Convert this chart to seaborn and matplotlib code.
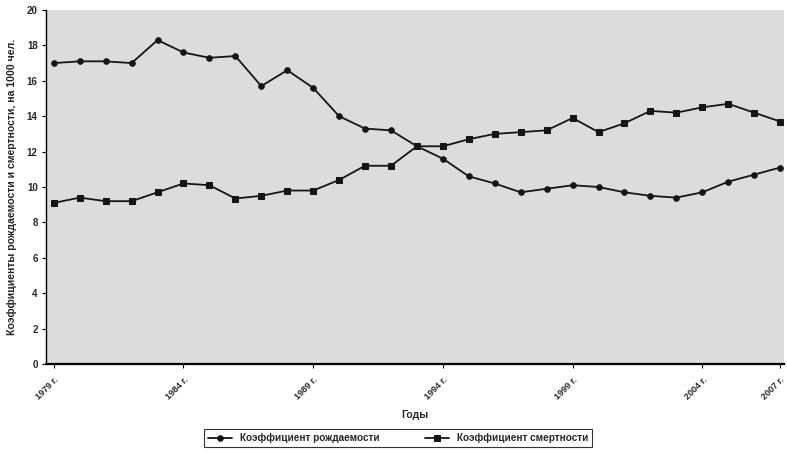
import numpy as np
import pandas as pd
import matplotlib
matplotlib.use("Agg")
import matplotlib.pyplot as plt
import seaborn as sns

years = list(range(1979, 2008))
birth_rate = [17.0, 17.1, 17.1, 17.0, 18.3, 17.6, 17.3, 17.4, 15.7, 16.6,
              15.6, 14.0, 13.3, 13.2, 12.3, 11.6, 10.6, 10.2, 9.7, 9.9,
              10.1, 10.0, 9.7, 9.5, 9.4, 9.7, 10.3, 10.7, 11.1]
death_rate = [9.1, 9.4, 9.2, 9.2, 9.7, 10.2, 10.1, 9.35, 9.5, 9.8,
              9.8, 10.4, 11.2, 11.2, 12.3, 12.3, 12.7, 13.0, 13.1, 13.2,
              13.9, 13.1, 13.6, 14.3, 14.2, 14.5, 14.7, 14.2, 13.7]
tick_years = [1979, 1984, 1989, 1994, 1999, 2004, 2007]
tick_labels = ["1979 г.", "1984 г.", "1989 г.", "1994 г.", "1999 г.", "2004 г.", "2007 г."]
series_names = ["Коэффициент рождаемости", "Коэффициент смертности"]
x_label = "Годы"
y_label = "Коэффициенты рождаемости и смертности, на 1000 чел."

sns.set_style("white")
plt.rcParams['font.family'] = ['Liberation Sans', 'DejaVu Sans']

fig = plt.figure(figsize=(7.87, 4.54), dpi=100)
ax = fig.add_axes([46/787, 1 - 364/454, (784-46)/787, (364-10)/454])
ax.set_facecolor("#dcdcdc")

df = pd.DataFrame({"year": years, "birth": birth_rate, "death": death_rate})
sns.lineplot(data=df, x="year", y="birth", ax=ax, color="#151515", linewidth=1.3,
             marker="o", markersize=4.0, markeredgecolor="#151515", label=series_names[0])
sns.lineplot(data=df, x="year", y="death", ax=ax, color="#151515", linewidth=1.3,
             marker="s", markersize=4.3, markeredgecolor="#151515", label=series_names[1])

ax.set_xlim(1978.7, 2007.15)
ax.set_ylim(0, 20)
ax.set_yticks(range(0, 21, 2))
ax.set_xticks(tick_years)
ax.set_xticklabels(tick_labels, rotation=45, ha="right", rotation_mode="anchor",
                   fontsize=6.5, fontweight="bold")
for lbl in ax.get_yticklabels():
    lbl.set_fontsize(7)
    lbl.set_fontweight("bold")
ax.tick_params(axis="both", which="both", length=3, width=0.8, color="black",
               direction="out", pad=3, left=True, bottom=True)
ax.tick_params(axis="x", pad=5)

for s in ["top", "right"]:
    ax.spines[s].set_visible(False)
ax.spines["left"].set_color("black")
ax.spines["left"].set_linewidth(1.0)
ax.spines["bottom"].set_color("black")
ax.spines["bottom"].set_linewidth(1.6)

ax.set_xlabel(x_label, fontsize=7.5, fontweight="bold", labelpad=6)
ax.set_ylabel(y_label, fontsize=7.6, fontweight="bold", labelpad=7)

ax.get_legend().remove()
handles, labels = ax.get_legend_handles_labels()
leg = fig.legend(handles, labels, loc="center", bbox_to_anchor=(398/787, 1 - 438/454),
                 ncol=2, fontsize=7.2, frameon=True, fancybox=False, edgecolor="black",
                 handlelength=2.4, columnspacing=4.5, borderpad=0.4, borderaxespad=0)
leg.get_frame().set_linewidth(0.8)
for t in leg.get_texts():
    t.set_fontweight("bold")

fig.savefig("out.png", dpi=100)
